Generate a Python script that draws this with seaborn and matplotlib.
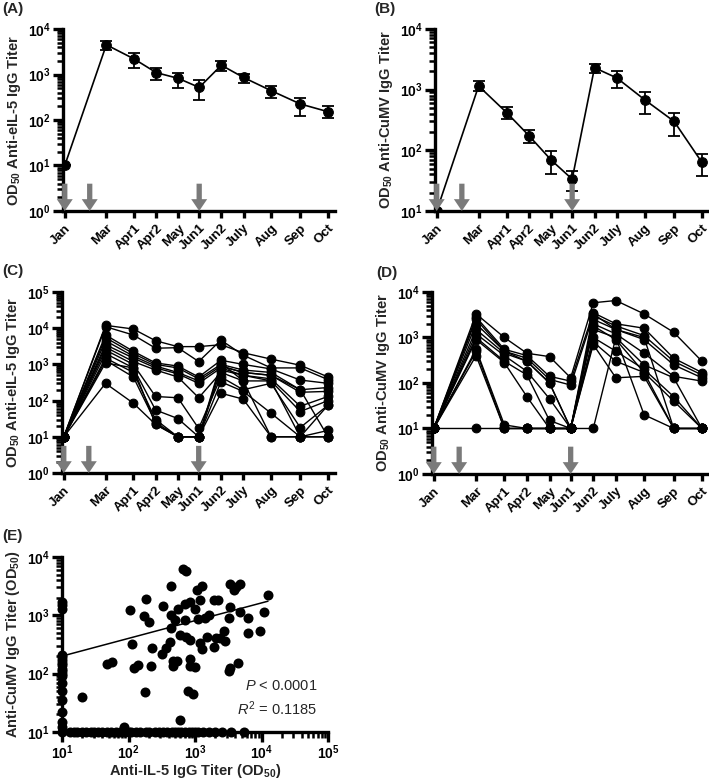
import numpy as np
import pandas as pd
import matplotlib
matplotlib.use('Agg')
import matplotlib.pyplot as plt
import seaborn as sns
from matplotlib.ticker import LogLocator, NullFormatter, FuncFormatter

# ---- data ----
months = ['Jan', 'Mar', 'Apr1', 'Apr2', 'May', 'Jun1', 'Jun2', 'July', 'Aug', 'Sep', 'Oct']
weeks = [0, 6, 10, 13.2, 16.4, 19.4, 22.6, 25.8, 29.8, 34, 38]
vacc_weeks = [0, 3.6, 19.4]

# (A) anti-eIL-5 mean titer with error bars
il5_mean = [10, 4500, 2200, 1100, 820, 520, 1600, 860, 440, 225, 152]
il5_lo = [10, 3500, 1400, 750, 500, 280, 1200, 650, 310, 125, 110]
il5_hi = [10, 5500, 2900, 1400, 1100, 750, 2000, 1050, 560, 310, 200]

# (B) anti-CuMV mean titer with error bars
cumv_mean = [10, 1150, 420, 175, 69, 33.5, 2300, 1560, 680, 300, 63]
cumv_lo = [10, 950, 330, 130, 40, 21, 1900, 1050, 400, 170, 38]
cumv_hi = [10, 1400, 520, 215, 97, 45, 2700, 2000, 920, 420, 88]

# (C) individual anti-eIL-5 titers
il5_horses = [
    [10, 12000, 9500, 4500, 3100, 3100, 3500, 2100, 1400, 950, 450],
    [10, 11000, 6500, 2800, 2900, 1200, 4700, 1800, 800, 800, 380],
    [10, 6500, 2300, 1100, 900, 450, 1300, 1000, 750, 370, 300],
    [10, 5500, 2000, 1000, 800, 400, 1000, 700, 600, 200, 230],
    [10, 4500, 1700, 900, 600, 350, 900, 600, 500, 170, 180],
    [10, 3500, 1500, 800, 550, 300, 800, 500, 400, 70, 130],
    [10, 3000, 1200, 700, 450, 120, 600, 350, 350, 50, 100],
    [10, 2500, 1000, 130, 120, 17, 450, 200, 300, 18, 75],
    [10, 2000, 800, 55, 32, 10, 330, 180, 45, 10, 15],
    [10, 1500, 600, 30, 10, 10, 160, 110, 10, 10, 10],
    [10, 1300, 450, 25, 10, 10, 900, 600, 500, 200, 10],
    [10, 1100, 800, 22, 10, 10, 1100, 350, 10, 10, 75],
    [10, 300, 85, 22, 10, 10, 700, 500, 350, 10, 10],
]

# (D) individual anti-CuMV titers
cumv_horses = [
    [10, 3300, 1000, 450, 380, 130, 5800, 6500, 3300, 1300, 300],
    [10, 2800, 550, 400, 140, 110, 3500, 2000, 1600, 350, 170],
    [10, 2000, 500, 350, 120, 90, 3000, 1800, 1100, 300, 150],
    [10, 1500, 450, 300, 100, 10, 2500, 1500, 900, 250, 130],
    [10, 1200, 400, 180, 45, 10, 2000, 1200, 450, 140, 110],
    [10, 1000, 300, 150, 15, 10, 1500, 1000, 250, 130, 10],
    [10, 900, 280, 50, 10, 10, 1000, 500, 200, 50, 10],
    [10, 550, 12, 10, 10, 10, 800, 300, 170, 40, 10],
    [10, 500, 10, 10, 10, 10, 700, 130, 140, 10, 10],
    [10, 400, 10, 10, 10, 10, 10, 1000, 20, 10, 10],
    [10, 10, 10, 10, 10, 10, 3300, 1500, 1000, 10, 10],
    [10, 2500, 500, 300, 100, 10, 1800, 900, 170, 10, 10],
]

# (E) correlation of both titers
corr_il5 = [106, 112, 47, 57, 20, 86, 168, 180, 200, 178,
            119, 141, 215, 225, 316, 330, 360, 420, 440, 440,
            440, 500, 470, 470, 530, 560, 600, 600, 660, 740,
            700, 700, 740, 830, 830, 830, 830, 790, 930, 1000,
            1000, 1060, 1120, 1190, 1190, 1260, 1260, 1400, 1500, 1600,
            1900, 1900, 2100, 2200, 2400, 2700, 2800, 3200, 3400, 3200,
            3400, 3800, 4200, 4700, 4400, 3400, 4700, 6300, 6300, 9400,
            11000, 12500]
corr_cumv = [1230, 320, 145, 160, 39, 12, 960, 1900, 780, 49,
             126, 138, 136, 275, 213, 1450, 275, 355, 1000, 3200,
             600, 830, 165, 135, 165, 1300, 460, 16, 6300, 5800,
             1580, 840, 430, 1700, 380, 180, 136, 50, 45, 130,
             1300, 2700, 880, 330, 1800, 3200, 260, 900, 430, 1000,
             1800, 290, 400, 1800, 400, 530, 360, 110, 125, 890,
             3500, 2700, 3100, 3500, 150, 1400, 1150, 890, 500, 530,
             1150, 2200]
floor_il5 = [10, 13, 15, 17, 20, 23, 27, 30, 35, 40, 48, 55, 65, 75, 90, 100,
             110, 130, 150, 180, 200, 250, 290, 330, 380, 450, 500, 560, 620,
             700, 800, 900, 1000, 1100, 1300, 1600, 2000, 2500, 3500, 5500]
floor_cumv = [12, 15, 22, 35, 50, 70, 90, 100, 110, 120, 140, 150, 170, 190,
              210, 1300, 1500, 1700]
fit_slope = 0.304
fit_intercept = 1.996
fit_range = [10, 12500]

# ---- styling ----
sns.set_style('ticks')
plt.rcParams.update({
    'font.family': ['Liberation Sans', 'DejaVu Sans'],
    'font.weight': 'bold',
    'mathtext.fontset': 'custom',
    'mathtext.rm': 'Liberation Sans:normal',
    'mathtext.it': 'Liberation Sans:italic:normal',
    'mathtext.bf': 'Liberation Sans:bold',
    'axes.linewidth': 2.4,
    'axes.edgecolor': 'black',
    'xtick.color': 'black',
    'ytick.color': 'black',
    'axes.labelweight': 'bold',
})

TICK_FS = 10
MONTH_FS = 9.5
LABEL_FS = 10.5


def pow_fmt(v, pos):
    return r'$\mathbf{10^{%d}}$' % round(np.log10(v))


def style_log(axis):
    axis.set_major_locator(LogLocator(base=10, numticks=12))
    axis.set_minor_locator(LogLocator(base=10, subs=np.arange(2, 10), numticks=12))
    axis.set_major_formatter(FuncFormatter(pow_fmt))
    axis.set_minor_formatter(NullFormatter())


def style_time_axis(ax, ymin, ymax, ylabel):
    ax.set_yscale('log')
    ax.set_ylim(ymin, ymax)
    style_log(ax.yaxis)
    ax.set_xlim(-0.25, 39)
    ax.set_xticks(weeks)
    ax.set_xticklabels(months, rotation=45, ha='right', rotation_mode='anchor',
                       fontsize=MONTH_FS, fontweight='bold')
    ax.tick_params(axis='x', length=5, width=2.4, pad=3)
    ax.tick_params(axis='y', which='major', length=7, width=2.4, labelsize=TICK_FS, pad=2)
    ax.tick_params(axis='y', which='minor', length=4.5, width=1.8)
    ax.set_xlabel('')
    ax.set_ylabel(ylabel, fontsize=LABEL_FS, fontweight='bold', labelpad=3)
    sns.despine(ax=ax)
    for wk in vacc_weeks:
        ax.annotate('', xy=(wk, 0.0), xycoords=('data', 'axes fraction'),
                    xytext=(wk, 0.15), textcoords=('data', 'axes fraction'),
                    arrowprops=dict(facecolor='#7a7a7a', edgecolor='none',
                                    width=3.8, headwidth=11.5, headlength=8.5, shrink=0),
                    annotation_clip=False, zorder=5)


def long_table(series):
    rows = []
    for i, vals in enumerate(series):
        for wk, v in zip(weeks, vals):
            rows.append({'horse': i, 'week': wk, 'titer': v})
    return pd.DataFrame(rows)


fig = plt.figure(figsize=(7.09, 7.82), dpi=100)
axA = fig.add_axes([0.0889, 0.7302, 0.3836, 0.2327])
axB = fig.add_axes([0.6135, 0.7302, 0.3865, 0.2327])
axC = fig.add_axes([0.0875, 0.3951, 0.3850, 0.2315])
axD = fig.add_axes([0.6093, 0.3939, 0.3907, 0.2327])
axE = fig.add_axes([0.0875, 0.0640, 0.3752, 0.2238])

# (A) and (B): group means
for ax, mean, lo, hi, ymin, ylab in [
        (axA, il5_mean, il5_lo, il5_hi, 1, r'OD$_{\mathbf{50}}$ Anti-eIL-5 IgG Titer'),
        (axB, cumv_mean, cumv_lo, cumv_hi, 10, r'OD$_{\mathbf{50}}$ Anti-CuMV IgG Titer')]:
    df = pd.DataFrame({'week': weeks, 'titer': mean})
    sns.lineplot(data=df, x='week', y='titer', ax=ax, color='black', lw=1.2,
                 marker='o', markersize=7, markeredgecolor='black', zorder=3)
    yerr = [np.array(mean) - np.array(lo), np.array(hi) - np.array(mean)]
    ax.errorbar(weeks, mean, yerr=yerr, fmt='none', ecolor='black', elinewidth=1.3,
                capsize=4, capthick=1.3, zorder=2)
    style_time_axis(ax, ymin, 1e4, ylab)

# (C) and (D): individual horses
for ax, series, ymax, ylab in [
        (axC, il5_horses, 1e5, r'OD$_{\mathbf{50}}$ Anti-eIL-5 IgG Titer'),
        (axD, cumv_horses, 1e4, r'OD$_{\mathbf{50}}$ Anti-CuMV IgG Titer')]:
    df = long_table(series)
    sns.lineplot(data=df, x='week', y='titer', units='horse', estimator=None, ax=ax,
                 color='black', lw=1.0, marker='o', markersize=6.3,
                 markeredgecolor='black', zorder=3)
    style_time_axis(ax, 1, ymax, ylab)

# (E) correlation
scat = pd.DataFrame({
    'il5': corr_il5 + floor_il5 + [10] * len(floor_cumv),
    'cumv': corr_cumv + [10] * len(floor_il5) + floor_cumv,
})
sns.scatterplot(data=scat, x='il5', y='cumv', ax=axE, color='black', s=52,
                edgecolor='black', linewidth=0, clip_on=False, zorder=3)
fit_x = np.array(fit_range, dtype=float)
fit_y = 10 ** (fit_intercept + fit_slope * np.log10(fit_x))
axE.plot(fit_x, fit_y, color='black', lw=1.1, zorder=2)
axE.set_xscale('log')
axE.set_yscale('log')
axE.set_xlim(10, 1e5)
axE.set_ylim(10, 1e4)
style_log(axE.xaxis)
style_log(axE.yaxis)
axE.tick_params(which='major', length=7, width=2.4, labelsize=TICK_FS, pad=2)
axE.tick_params(which='minor', length=4.5, width=1.8)
axE.tick_params(axis='x', pad=1)
axE.set_xlabel(r'Anti-IL-5 IgG Titer (OD$_{\mathbf{50}}$)', fontsize=LABEL_FS,
               fontweight='bold', labelpad=0)
axE.set_ylabel(r'Anti-CuMV IgG Titer (OD$_{\mathbf{50}}$)', fontsize=LABEL_FS,
               fontweight='bold', labelpad=3)
sns.despine(ax=axE)
axE.text(0.96, 0.26, r'$P$ < 0.0001', transform=axE.transAxes, ha='right',
         va='center', fontsize=10.5, fontweight='normal')
axE.text(0.96, 0.135, r'$R^{\mathrm{2}}$ = 0.1185', transform=axE.transAxes, ha='right',
         va='center', fontsize=10.5, fontweight='normal')

# panel letters
for lab, x, y in [('(A)', 0.003, 0.998), ('(B)', 0.528, 0.998), ('(C)', 0.003, 0.663),
                  ('(D)', 0.530, 0.660), ('(E)', 0.003, 0.324)]:
    fig.text(x, y, lab, ha='left', va='top', fontsize=11, fontweight='bold')

fig.savefig('out.png', dpi=100)
